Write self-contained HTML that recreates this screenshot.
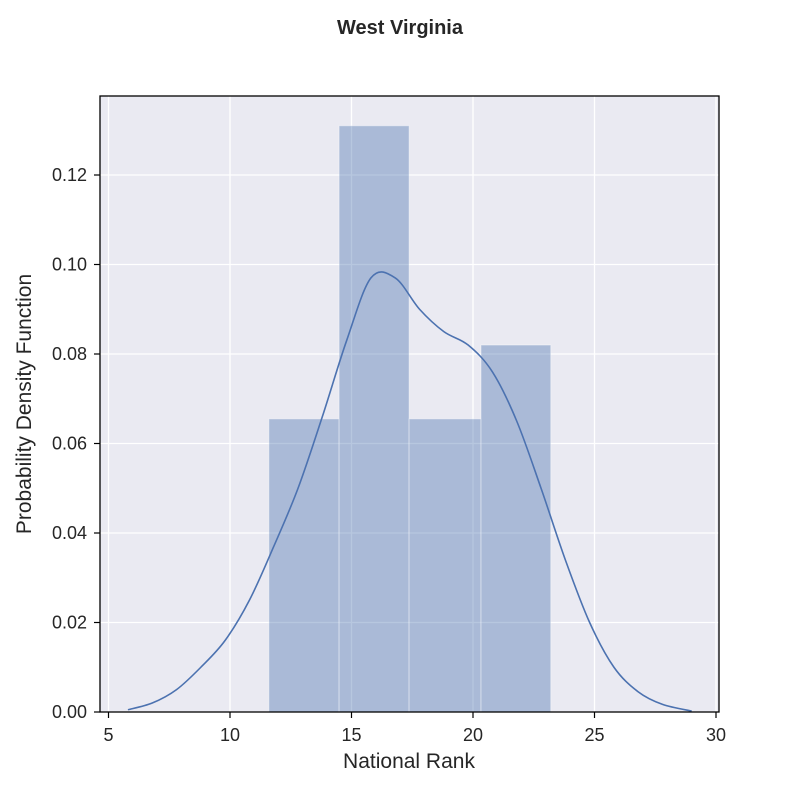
<!DOCTYPE html>
<html><head><meta charset="utf-8"><style>
body{margin:0;background:#fff;font-family:"Liberation Sans",Arial,sans-serif}
svg text{font-family:"Liberation Sans",Arial,sans-serif;fill:#262626}
</style></head><body>
<svg id="chart" width="800" height="800">
<text x="400" y="34" text-anchor="middle" font-size="20" font-weight="bold">West Virginia</text>
<rect x="100" y="96" width="619" height="616" fill="#eaeaf2"/>
<g id="grid"></g><g id="bars"></g><g id="kde"></g><g id="axes"></g>
<rect x="100" y="96" width="619" height="616" fill="none" stroke="#000" stroke-width="1.3"/>
<text x="409" y="768" text-anchor="middle" font-size="21">National Rank</text>
<text transform="translate(31,404) rotate(-90)" text-anchor="middle" font-size="21">Probability Density Function</text>
</svg>
<script>
const xTicks=[5,10,15,20,25,30];
const yTicks=[0,0.02,0.04,0.06,0.08,0.10,0.12];
const yTickLabels=["0.00","0.02","0.04","0.06","0.08","0.10","0.12"];
const binEdges=[11.6,14.49,17.37,20.33,23.2];
const binDensity=[0.0655,0.131,0.0655,0.082];
const kdeX=[5.8,6.8,7.8,8.8,9.8,10.8,11.8,12.8,13.8,14.8,15.8,16.8,17.8,18.8,19.8,20.8,21.8,22.8,23.8,24.8,25.8,26.8,27.8,29];
const kdeY=[0.0005,0.002,0.005,0.010,0.016,0.025,0.037,0.050,0.066,0.083,0.097,0.097,0.090,0.085,0.082,0.076,0.065,0.050,0.034,0.020,0.010,0.0045,0.0017,0.0002];
const NS="http://www.w3.org/2000/svg";
const X=v=>108.5+(v-5)*24.3;
const Y=v=>712-v*4475;
function mk(tag,attrs,parent){const e=document.createElementNS(NS,tag);for(const k in attrs)e.setAttribute(k,attrs[k]);document.getElementById(parent).appendChild(e);return e;}
xTicks.forEach(t=>{
 const g=mk('line',{x1:X(t),x2:X(t),y1:96,y2:712,stroke:'#fff','stroke-width':1.3},'grid');
 
 
 const tk=mk('line',{x1:X(t),x2:X(t),y1:712,y2:718,stroke:'#000','stroke-width':1.2},'axes');
 
 
 const tx=mk('text',{x:X(t),y:741,'text-anchor':'middle','font-size':18},'axes');
 tx.textContent=t;
 
 
});
yTicks.forEach((t,i)=>{
 const g=mk('line',{x1:100,x2:719,y1:Y(t),y2:Y(t),stroke:'#fff','stroke-width':1.3},'grid');
 
 
 const tk=mk('line',{x1:94,x2:100,y1:Y(t),y2:Y(t),stroke:'#000','stroke-width':1.2},'axes');
 
 
 const tx=mk('text',{x:87,y:Y(t)+6,'text-anchor':'end','font-size':18},'axes');
 tx.textContent=yTickLabels[i];
 
 
});
binDensity.forEach((d,i)=>{
 const r=mk('rect',{x:X(binEdges[i]),y:Y(d),width:X(binEdges[i+1])-X(binEdges[i]),height:Y(0)-Y(d),fill:'#4c72b0','fill-opacity':0.4,stroke:'#fff','stroke-opacity':0.4,'stroke-width':1},'bars');
 
 
});
const pts=kdeX.map((x,i)=>[X(x),Y(kdeY[i])]);
let d=`M${pts[0][0]},${pts[0][1]}`;
for(let i=0;i<pts.length-1;i++){
 const p0=pts[i-1]||pts[i],p1=pts[i],p2=pts[i+1],p3=pts[i+2]||p2;
 d+=` C${p1[0]+(p2[0]-p0[0])/6},${p1[1]+(p2[1]-p0[1])/6} ${p2[0]-(p3[0]-p1[0])/6},${p2[1]-(p3[1]-p1[1])/6} ${p2[0]},${p2[1]}`;
}
const path=mk('path',{d:d,fill:'none',stroke:'#4c72b0','stroke-width':1.6},'kde');


</script>
</body></html>
